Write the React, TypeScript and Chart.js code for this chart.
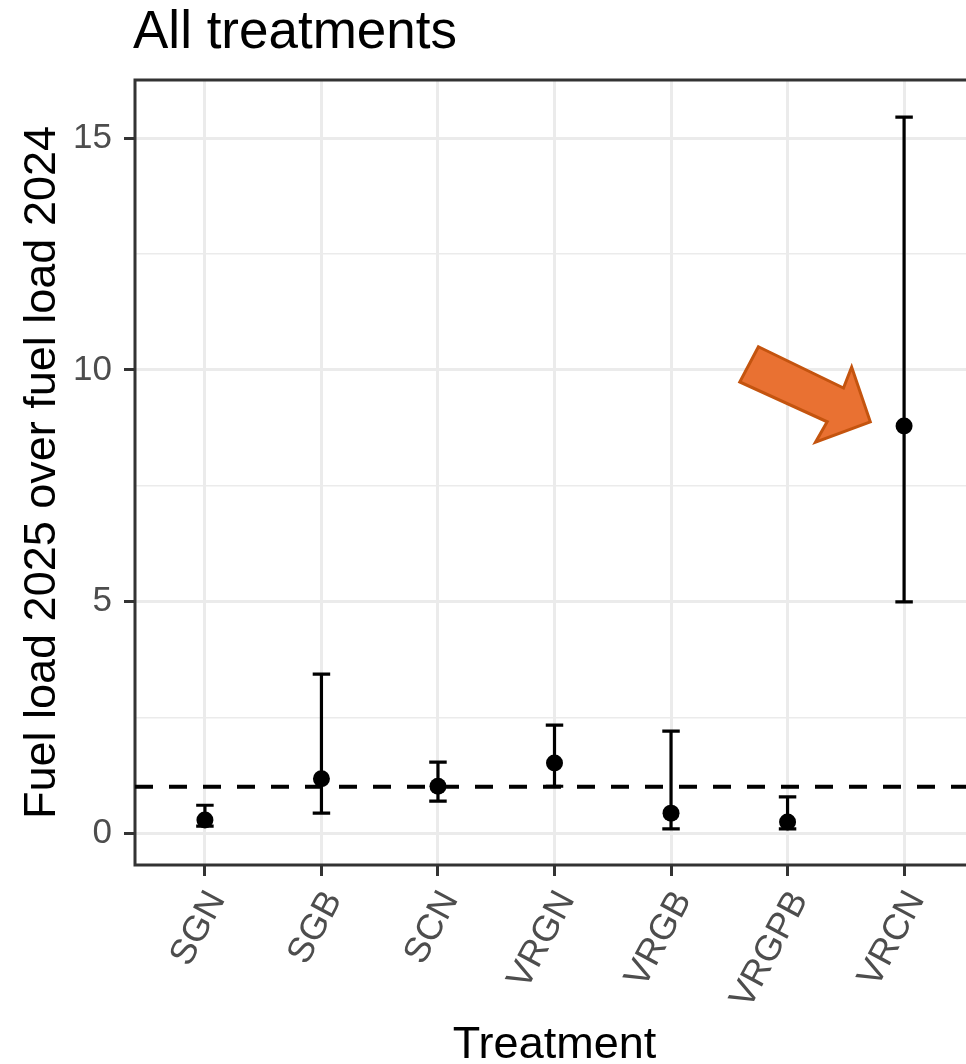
import React, { useEffect, useRef } from "react";
import { Chart, registerables } from "chart.js";

Chart.register(...registerables);

const categories = ["SGN", "SGB", "SCN", "VRGN", "VRGB", "VRGPB", "VRCN"];
const means = [0.28, 1.17, 1.01, 1.51, 0.43, 0.24, 8.79];
const lower = [0.15, 0.43, 0.69, 1.01, 0.09, 0.09, 4.99];
const upper = [0.6, 3.43, 1.53, 2.33, 2.2, 0.78, 15.46];
const yMajorTicks = [0, 5, 10, 15];
const yMinorTicks = [2.5, 7.5, 12.5];
const referenceLine = 1;
// annotation arrow polygon in data units (category index, value)
const arrowX = [4.75, 5.48, 5.55, 5.71, 5.24, 5.34, 4.59];
const arrowY = [10.5, 9.61, 10.06, 8.88, 8.44, 8.88, 9.74];

const FONT = "'Liberation Sans', Arial, sans-serif";

export default function App() {
  const ref = useRef<HTMLCanvasElement>(null);

  useEffect(() => {
    if (!ref.current) return;

    const decor = {
      id: "decor",
      beforeDatasetsDraw(chart: any) {
        const { ctx, chartArea: a } = chart;
        const xs = chart.scales.x;
        const ys = chart.scales.y;
        ctx.save();
        // panel border
        ctx.strokeStyle = "#333333";
        ctx.lineWidth = 3;
        ctx.strokeRect(a.left, a.top, a.right - a.left, a.bottom - a.top);
        // error bars
        ctx.strokeStyle = "#000";
        ctx.lineWidth = 3.2;
        const capHalf = xs.getPixelForValue(0.075) - xs.getPixelForValue(0);
        categories.forEach((_, i) => {
          const px = xs.getPixelForValue(i);
          const lo = ys.getPixelForValue(lower[i]);
          const hi = ys.getPixelForValue(upper[i]);
          ctx.beginPath();
          ctx.moveTo(px, lo);
          ctx.lineTo(px, hi);
          ctx.moveTo(px - capHalf, lo);
          ctx.lineTo(px + capHalf, lo);
          ctx.moveTo(px - capHalf, hi);
          ctx.lineTo(px + capHalf, hi);
          ctx.stroke();
        });
        // dashed reference line
        const ry = ys.getPixelForValue(referenceLine);
        ctx.beginPath();
        ctx.setLineDash([18, 16]);
        ctx.lineWidth = 4;
        ctx.moveTo(a.left, ry);
        ctx.lineTo(a.right, ry);
        ctx.stroke();
        ctx.restore();
      },
      afterDraw(chart: any) {
        const { ctx, chartArea: a } = chart;
        const xs = chart.scales.x;
        const ys = chart.scales.y;
        ctx.save();
        // arrow annotation
        ctx.beginPath();
        arrowX.forEach((v, i) => {
          const px = xs.getPixelForValue(v);
          const py = ys.getPixelForValue(arrowY[i]);
          if (i === 0) ctx.moveTo(px, py);
          else ctx.lineTo(px, py);
        });
        ctx.closePath();
        ctx.fillStyle = "#E97132";
        ctx.fill();
        ctx.strokeStyle = "#C4540F";
        ctx.lineWidth = 3;
        ctx.lineJoin = "miter";
        ctx.stroke();
        // titles
        ctx.fillStyle = "#000";
        ctx.textBaseline = "alphabetic";
        ctx.font = `53px ${FONT}`;
        ctx.textAlign = "left";
        ctx.fillText("All treatments", 133, 48);
        ctx.font = `45px ${FONT}`;
        ctx.textAlign = "center";
        ctx.fillText("Treatment", (a.left + a.right) / 2, 1058);
        ctx.translate(55, (a.top + a.bottom) / 2);
        ctx.rotate(-Math.PI / 2);
        ctx.fillText("Fuel load 2025 over fuel load 2024", 0, 0);
        ctx.restore();
      },
    };

    const chart = new Chart(ref.current, {
      type: "scatter",
      data: {
        datasets: [
          {
            data: means.map((m, i) => ({ x: i, y: m })),
            backgroundColor: "#000",
            borderColor: "#000",
            pointRadius: 8.5,
            pointHoverRadius: 8.5,
            borderWidth: 0,
          },
        ],
      },
      options: {
        animation: false,
        responsive: false,
        events: [],
        layout: { padding: { left: 0, top: 80, right: 26, bottom: 0 } },
        plugins: { legend: { display: false }, tooltip: { enabled: false } },
        scales: {
          x: {
            type: "linear",
            min: -0.6,
            max: 6.6,
            afterBuildTicks(scale: any) {
              scale.ticks = categories.map((_, i) => ({ value: i }));
            },
            afterFit(scale: any) {
              scale.height = 199;
            },
            border: { display: false },
            grid: {
              color: "#EBEBEB",
              lineWidth: 3,
              tickLength: 11,
              tickColor: "#333333",
              tickWidth: 3,
            },
            ticks: {
              autoSkip: false,
              maxRotation: 62,
              minRotation: 62,
              padding: 8,
              labelOffset: 12,
              color: "#4D4D4D",
              font: { family: FONT, size: 36 },
              callback: (v: any) => categories[v as number] ?? "",
            },
          },
          y: {
            type: "linear",
            min: -0.69,
            max: 16.26,
            afterBuildTicks(scale: any) {
              scale.ticks = [...yMajorTicks, ...yMinorTicks]
                .sort((p, q) => p - q)
                .map((v) => ({ value: v }));
            },
            afterFit(scale: any) {
              scale.width = 135;
            },
            border: { display: false },
            grid: {
              color: "#EBEBEB",
              lineWidth: (c: any) => (yMajorTicks.includes(c.tick?.value) ? 3 : 1.5),
              tickLength: 11,
              tickColor: (c: any) =>
                yMajorTicks.includes(c.tick?.value) ? "#333333" : "rgba(0,0,0,0)",
              tickWidth: 3,
            },
            ticks: {
              autoSkip: false,
              padding: 12,
              color: "#4D4D4D",
              font: { family: FONT, size: 35 },
              callback: (v: any) => (yMajorTicks.includes(v as number) ? String(v) : ""),
            },
          },
        },
      },
      plugins: [decor],
    });

    return () => chart.destroy();
  }, []);

  return (
    <div
      style={{
        position: "fixed",
        left: 0,
        top: 0,
        width: 966,
        height: 1064,
        overflow: "hidden",
        background: "#fff",
      }}
    >
      <canvas ref={ref} width={1000} height={1064} style={{ width: 1000, height: 1064 }} />
    </div>
  );
}
